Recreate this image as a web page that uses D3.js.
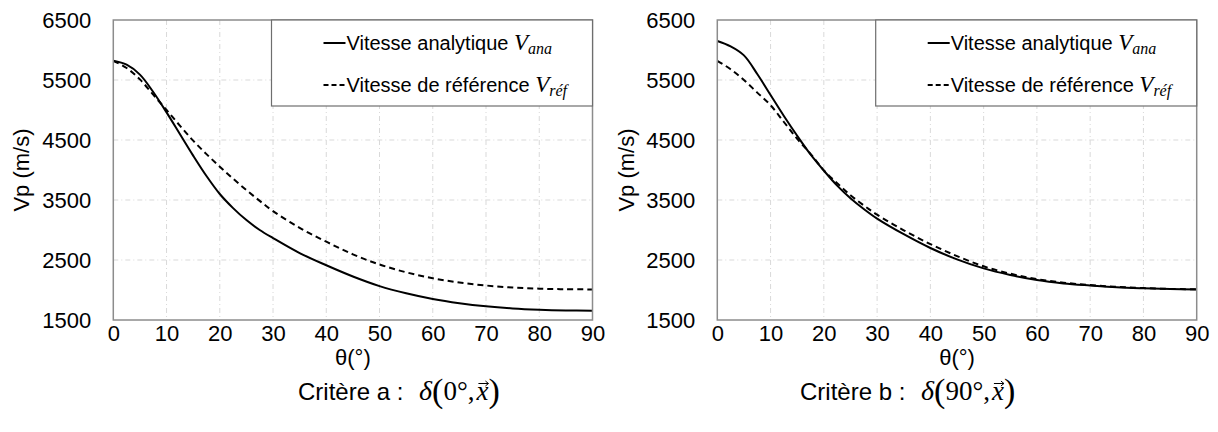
<!DOCTYPE html>
<html><head><meta charset="utf-8">
<script src="https://cdn.jsdelivr.net/npm/d3@7"></script>
<style>body{margin:0;background:#fff}svg{display:block}</style>
</head><body>
<svg id="c" width="1218" height="432"></svg>
<script>
const theta = [0,2.5,5,7.5,10,12.5,15,17.5,20,22.5,25,27.5,30,35,40,45,50,55,60,65,70,75,80,85,90];
// Critère a
const vanaA = [5820,5755,5590,5300,4960,4600,4240,3900,3600,3365,3165,3000,2865,2615,2412,2225,2065,1945,1850,1780,1728,1693,1672,1660,1655];
const vrefA = [5820,5700,5510,5255,5000,4740,4490,4265,4055,3855,3665,3485,3315,3035,2805,2595,2425,2295,2195,2125,2075,2042,2022,2013,2010];
// Critère b
const vanaB = [6150,6060,5910,5600,5250,4900,4570,4260,3990,3740,3530,3350,3190,2930,2700,2510,2360,2250,2165,2110,2075,2045,2028,2016,2010];
const vrefB = [5820,5680,5500,5290,5080,4800,4520,4270,3995,3780,3580,3410,3255,2995,2765,2565,2395,2272,2182,2122,2082,2052,2032,2018,2012];
const xTicks = [0,10,20,30,40,50,60,70,80,90];
const yTicks = [1500,2500,3500,4500,5500,6500];
const legendLabels = [["Vitesse analytique ","V","ana"],["Vitesse de référence ","V","réf"]];
const captions = [["Critère a : ","0°,"],["Critère b : ","90°,"]];
const xTitle = "θ(°)";
const yTitle = "Vp (m/s)";

const svg = d3.select("#c");
const SANS = "'Liberation Sans', Arial, sans-serif";
const SERIF = "'Liberation Serif', 'Times New Roman', serif";
const panels = [
  {left:113.3,right:592.5,ana:vanaA,ref:vrefA,cap:captions[0],capX:298,ytX:21},
  {left:717.3,right:1196.7,ana:vanaB,ref:vrefB,cap:captions[1],capX:800,ytX:626}
];
const pTop=20,pBottom=320;

panels.forEach(p=>{
  const x = d3.scaleLinear().domain([0,90]).range([p.left,p.right]);
  const y = d3.scaleLinear().domain([1500,6500]).range([pBottom,pTop]);
  const g = svg.append("g");
  g.selectAll(".gx").data(xTicks.slice(1,-1)).join("line")
    .attr("x1",d=>x(d)).attr("x2",d=>x(d)).attr("y1",pTop).attr("y2",pBottom)
    .attr("stroke","#d9d9d9").attr("stroke-width",1).attr("stroke-dasharray","5,3,1,3");
  g.selectAll(".gy").data(yTicks.slice(1,-1)).join("line")
    .attr("x1",p.left).attr("x2",p.right).attr("y1",d=>y(d)).attr("y2",d=>y(d))
    .attr("stroke","#d9d9d9").attr("stroke-width",1).attr("stroke-dasharray","5,3,1,3");
  const ax = g.append("g").attr("transform",`translate(0,${pBottom})`)
    .call(d3.axisBottom(x).tickValues(xTicks).tickSize(0).tickPadding(5).tickFormat(d3.format("d")));
  ax.select(".domain").remove();
  ax.selectAll("text").attr("font-family",SANS).attr("font-size",22).attr("fill","#000");
  const ay = g.append("g").attr("transform",`translate(${p.left},0)`)
    .call(d3.axisLeft(y).tickValues(yTicks).tickSize(0).tickPadding(22).tickFormat(d3.format("d")));
  ay.select(".domain").remove();
  ay.selectAll("text").attr("font-family",SANS).attr("font-size",22).attr("fill","#000");
  const line = d3.line().x((d,i)=>x(theta[i])).y(d=>y(d)).curve(d3.curveCatmullRom.alpha(0.5));
  g.append("path").attr("d",line(p.ref)).attr("fill","none").attr("stroke","#000")
    .attr("stroke-width",2).attr("stroke-dasharray","6,4");
  g.append("path").attr("d",line(p.ana)).attr("fill","none").attr("stroke","#000")
    .attr("stroke-width",2);
  g.append("rect").attr("x",p.left).attr("y",pTop).attr("width",p.right-p.left).attr("height",pBottom-pTop)
    .attr("fill","none").attr("stroke","#8c8c8c").attr("stroke-width",1.5);
  const lw=321, lh=86, lx=p.right-lw;
  g.append("rect").attr("x",lx).attr("y",pTop).attr("width",lw).attr("height",lh)
    .attr("fill","#fff").attr("stroke","#6e6e6e").attr("stroke-width",1.2);
  legendLabels.forEach((lab,i)=>{
    const ly = 43 + i*42;
    g.append("line").attr("x1",lx+52).attr("x2",lx+74).attr("y1",ly).attr("y2",ly)
      .attr("stroke","#000").attr("stroke-width",2).attr("stroke-dasharray",i?"5,3":null);
    const t = g.append("text").attr("x",lx+75).attr("y",ly+7).attr("font-family",SANS).attr("font-size",20).attr("fill","#000");
    t.append("tspan").text(lab[0]);
    t.append("tspan").attr("font-family",SERIF).attr("font-style","italic").attr("font-size",23).text(lab[1]);
    t.append("tspan").attr("font-family",SERIF).attr("font-style","italic").attr("font-size",16).attr("dy",4).text(lab[2]);
  });
  g.append("text").attr("x",(p.left+p.right)/2).attr("y",365).attr("text-anchor","middle")
    .attr("font-family",SANS).attr("font-size",22).text(xTitle);
  g.append("text").attr("transform",`translate(${p.ytX},170) rotate(-90)`).attr("text-anchor","middle")
    .attr("dominant-baseline","central").attr("font-family",SANS).attr("font-size",22).text(yTitle);
  const ct = g.append("text").attr("x",p.capX).attr("y",400).attr("font-family",SANS).attr("font-size",24).attr("fill","#000");
  ct.append("tspan").text(p.cap[0]);
  ct.append("tspan").attr("font-family",SERIF).attr("font-style","italic").attr("font-size",28).attr("dx",9).text("δ");
  ct.append("tspan").attr("font-family",SERIF).attr("font-size",34).attr("dy",2).text("(");
  ct.append("tspan").attr("font-family",SERIF).attr("font-size",27).attr("dy",-2).text(p.cap[1]);
  ct.append("tspan").attr("font-family",SERIF).attr("font-style","italic").attr("font-size",27).attr("dx",2).text("x");
  ct.append("tspan").attr("font-family",SERIF).attr("font-size",34).attr("dy",2).text(")");
  const idx = (p.cap[0]+"δ("+p.cap[1]).length;
  const ext = ct.node().getExtentOfChar(idx);
  const cx = ext.x + ext.width/2 + 1, cy = ext.y + ext.height*0.25;
  g.append("path").attr("d",`M${cx-5},${cy}L${cx+5},${cy}M${cx+2},${cy-2.5}L${cx+5},${cy}L${cx+2},${cy+2.5}`)
    .attr("fill","none").attr("stroke","#000").attr("stroke-width",1);
});
</script>
</body></html>
